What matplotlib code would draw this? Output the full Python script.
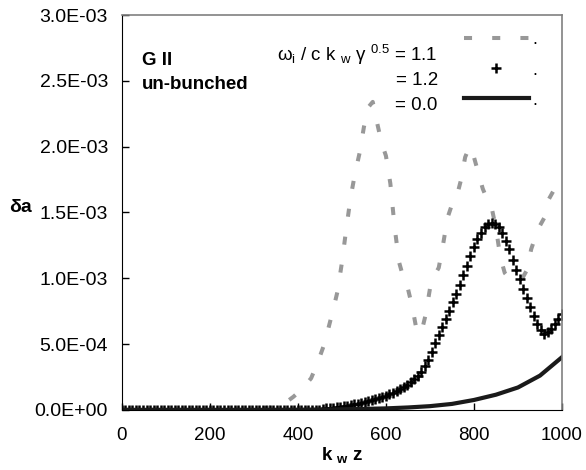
import numpy as np
import matplotlib as mpl
import matplotlib.pyplot as plt

mpl.use('Agg')

plt.rcParams['font.family'] = ['Liberation Sans', 'DejaVu Sans']
plt.rcParams['mathtext.fontset'] = 'custom'
plt.rcParams['mathtext.rm'] = 'Liberation Sans'
plt.rcParams['mathtext.it'] = 'Liberation Sans'
plt.rcParams['mathtext.bf'] = 'Liberation Sans:bold'

# omega_i / c k_w gamma^0.5 = 1.1  (grey dashes), delta a in units of 1e-3
z_11 = [0, 300, 340, 370, 390, 410, 430, 445, 460, 470, 480, 490, 500, 510,
        520, 530, 540, 550, 560, 570, 580, 590, 600, 610, 620, 630, 640, 650,
        660, 670, 680, 690, 700, 710, 720, 730, 740, 750, 760, 770, 780, 790,
        800, 810, 820, 830, 840, 850, 860, 870, 880, 890, 900, 910, 920, 930,
        940, 950, 960, 970, 980, 990, 1000]
da_11 = [0, 0, 0.02, 0.05, 0.10, 0.16, 0.24, 0.36, 0.50, 0.63, 0.76, 0.90,
         1.12, 1.38, 1.62, 1.80, 1.95, 2.15, 2.30, 2.34, 2.18, 2.03, 1.93,
         1.72, 1.38, 1.12, 1.00, 0.92, 0.78, 0.60, 0.58, 0.72, 0.92, 1.02,
         1.08, 1.26, 1.46, 1.56, 1.61, 1.74, 1.92, 2.00, 1.92, 1.80, 1.68,
         1.60, 1.54, 1.38, 1.16, 1.04, 1.00, 0.98, 0.98, 1.00, 1.06, 1.22,
         1.32, 1.40, 1.46, 1.60, 1.66, 1.69, 1.72]

# = 1.2  (black crosses), one point every 8 units of k_w z
z_12 = np.arange(0, 1001, 8)
da_12 = [0.0] * 57 + [
    0.008, 0.011, 0.013, 0.015, 0.019, 0.023, 0.027, 0.031, 0.037, 0.043,
    0.048, 0.054, 0.062, 0.070, 0.075, 0.082, 0.089, 0.097, 0.105, 0.117,
    0.129, 0.143, 0.159, 0.175, 0.187, 0.208, 0.232, 0.258, 0.290, 0.330,
    0.380, 0.440, 0.505, 0.570, 0.626, 0.690, 0.752, 0.816, 0.880, 0.952,
    1.024, 1.096, 1.168, 1.240, 1.296, 1.346, 1.386, 1.412, 1.420, 1.412,
    1.386, 1.342, 1.284, 1.220, 1.140, 1.066, 0.994, 0.922, 0.850, 0.778,
    0.712, 0.652, 0.604, 0.580, 0.588, 0.614, 0.650, 0.690, 0.730]

# = 0.0  (solid black)
z_00 = [0, 100, 200, 300, 400, 500, 550, 600, 650, 700, 750, 800, 850, 900,
        950, 1000]
da_00 = [0, 0, 0, 0, 0.001, 0.004, 0.007, 0.011, 0.018, 0.028, 0.045, 0.075,
         0.115, 0.170, 0.260, 0.400]

x_ticks = [0, 200, 400, 600, 800, 1000]
y_ticks = [0, 0.5e-3, 1.0e-3, 1.5e-3, 2.0e-3, 2.5e-3, 3.0e-3]

grey = '#989898'
fs = 13.5

fig = plt.figure(figsize=(5.86, 4.70), dpi=100)
ax = fig.add_axes([0.208, 0.128, 0.751, 0.840])

ln11, = ax.plot(z_11, np.array(da_11) * 1e-3, color=grey, lw=2.9,
                dashes=(2.0, 5.0), dash_capstyle='butt')
ln12, = ax.plot(z_12, np.array(da_12) * 1e-3, ls='none', marker='+',
                color='black', ms=7, mew=1.8)
ln00, = ax.plot(z_00, np.array(da_00) * 1e-3, color='#1a1a1a', lw=3)

ax.set_xlim(0, 1000)
ax.set_ylim(0, 3.0e-3)
ax.set_xticks(x_ticks)
ax.set_yticks(y_ticks)
ax.set_yticklabels(['{:.1E}'.format(v) for v in y_ticks])
ax.tick_params(direction='in', length=5, width=1)
ax.tick_params(axis='y', pad=10, labelsize=14)
ax.tick_params(axis='x', pad=12, labelsize=13.5)
for s in ['top', 'right']:
    ax.spines[s].set_color('#808080')
    ax.spines[s].set_linewidth(1.2)

ax.set_xlabel(r'k $_\mathbf{w}$ z', fontsize=fs, fontweight='bold', labelpad=1)
fig.text(20 / 586, 1 - 208 / 470, 'δa', fontsize=14, fontweight='bold',
         ha='center', va='center')

ax.text(0.045, 0.886, 'G II', transform=ax.transAxes, fontsize=fs,
        fontweight='bold', va='center')
ax.text(0.045, 0.823, 'un-bunched', transform=ax.transAxes, fontsize=fs,
        fontweight='bold', va='center')

ax.text(0.718, 0.899, r'ω$_\mathrm{i}$ / c k $_\mathrm{w}$ γ $^{0.5}$ = 1.1',
        transform=ax.transAxes, fontsize=fs, ha='right', va='center')
ax.text(0.718, 0.835, '= 1.2', transform=ax.transAxes, fontsize=fs,
        ha='right', va='center')
ax.text(0.718, 0.772, '= 0.0', transform=ax.transAxes, fontsize=fs,
        ha='right', va='center')

ax.legend([ln11, ln12, ln00], ['.', '.', '.'], loc='upper left',
          bbox_to_anchor=(0.76, 0.977), frameon=False, fontsize=13,
          handlelength=3.6, handletextpad=0.2, labelspacing=0.73,
          borderaxespad=0)

fig.savefig('out.png', dpi=100)
